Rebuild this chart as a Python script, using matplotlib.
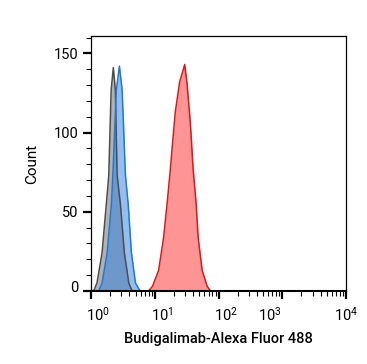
import matplotlib
matplotlib.use("Agg")
import matplotlib.pyplot as plt
import matplotlib.transforms as mtransforms
from matplotlib.ticker import LogLocator, MultipleLocator, NullFormatter

plt.rcParams['font.family'] = ['Roboto', 'DejaVu Sans']
plt.rcParams['mathtext.fontset'] = 'custom'
plt.rcParams['mathtext.rm'] = 'Roboto'
plt.rcParams['mathtext.it'] = 'Roboto'

# Data (fluorescence intensity, count)
gray_x = [1.10, 1.24, 1.49, 1.74, 1.90, 2.07, 2.24, 2.41, 2.57, 2.89, 3.34, 3.92, 4.42]
gray_y = [0, 5, 24, 55, 73, 127, 141, 127, 73, 55, 24, 5, 0]
blue_x = [1.32, 1.49, 1.79, 2.09, 2.20, 2.50, 2.79, 3.08, 3.47, 3.83, 4.31, 4.99, 5.91]
blue_y = [0, 5, 24, 55, 73, 127, 142, 127, 73, 55, 24, 5, 0]
red_x = [7.99, 9.23, 11.5, 13.8, 15.6, 17.5, 18.7, 21.0, 24.6, 29.5, 32.1, 36.2, 40.0, 44.6, 47.9, 55.4, 66.4, 74.8]
red_y = [0, 3, 13, 34, 55, 76, 90, 113, 132, 143, 131, 106, 77, 55, 34, 13, 3, 0]

y_ticks = [0, 50, 100, 150]
x_label = "Budigalimab-Alexa Fluor 488"
y_label = "Count"

fig = plt.figure(figsize=(3.67, 3.64), dpi=100)
ax = fig.add_axes([91/367, 1-291/364, (346-91)/367, (291-36)/364])

ax.fill_between(gray_x, gray_y, color='#808080', alpha=0.6, lw=0)
ax.plot(gray_x, gray_y, color='#4d4d4d', lw=1.1)
ax.fill_between(blue_x, blue_y, color='#2a7fe0', alpha=0.5, lw=0)
ax.plot(blue_x, blue_y, color='#1f78d8', lw=1.1)
ax.fill_between(red_x, red_y, color='#ff2020', alpha=0.48, lw=0)
ax.plot(red_x, red_y, color='#d41c1c', lw=1.1)

ax.set_xscale('log')
ax.set_xlim(1, 1e4)
ax.set_ylim(0, 161)
ax.xaxis.set_major_locator(LogLocator(base=10, numticks=10))
ax.xaxis.set_minor_locator(LogLocator(base=10, subs=range(2, 10), numticks=20))
ax.xaxis.set_minor_formatter(NullFormatter())
ax.set_yticks(y_ticks)
ax.yaxis.set_minor_locator(MultipleLocator(10))

ax.tick_params(axis='both', which='major', direction='out', length=6, width=1.6,
               labelsize=10.5, color='black')
ax.tick_params(axis='both', which='minor', direction='out', length=3.5, width=0.8)
ax.tick_params(axis='x', which='major', pad=5)
ax.tick_params(axis='y', which='major', pad=3)

for s in ['left', 'top', 'right']:
    ax.spines[s].set_linewidth(0.9)
ax.spines['bottom'].set_linewidth(1.5)

fig.canvas.draw()
offsets = [12, 7, 7, 7, -12]
labs = ax.get_xticklabels()
for lab, dx in zip(labs, offsets):
    lab.set_transform(lab.get_transform() + mtransforms.ScaledTranslation(dx/100, 0, fig.dpi_scale_trans))
ylabs = ax.get_yticklabels()
ylabs[0].set_transform(ylabs[0].get_transform() + mtransforms.ScaledTranslation(0, 4/100, fig.dpi_scale_trans))

ax.set_xlabel(x_label, fontsize=10.5, fontweight='medium', va='center')
ax.xaxis.set_label_coords(0.5, -(339-291)/255)
ax.set_ylabel(y_label, fontsize=11, va='center')
ax.yaxis.set_label_coords(-(91-32)/255, 0.5)

fig.savefig('out.png', dpi=100)
